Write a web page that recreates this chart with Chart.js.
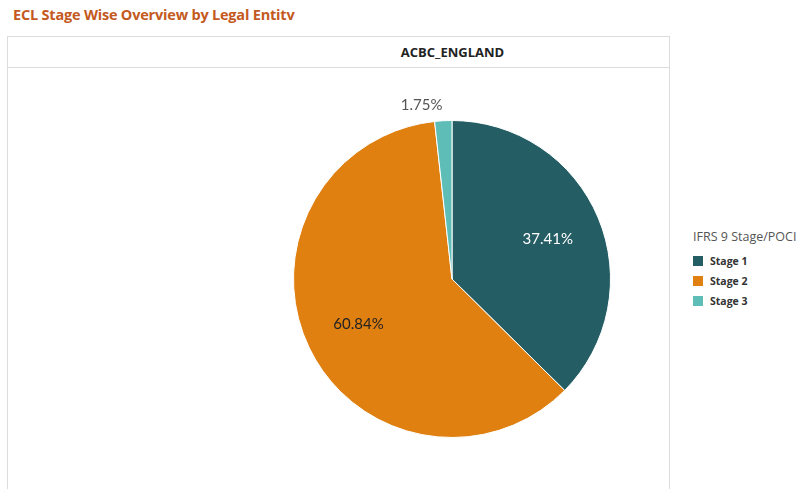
<!DOCTYPE html>
<html>
<head>
<meta charset="utf-8">
<script src="https://cdn.jsdelivr.net/npm/chart.js@4/dist/chart.umd.min.js"></script>
<style>
  body { margin: 0; width: 801px; height: 489px; background: #fff; position: relative; overflow: hidden; font-family: "Open Sans", sans-serif; }
  #title { position: absolute; left: 13px; top: 5px; font-size: 14.5px; font-weight: bold; color: #c4591e; letter-spacing: -0.2px; }
  #panel { position: absolute; left: 7px; top: 36px; width: 661px; height: 470px; border: 1px solid #dcdcdc; }
  #header { height: 31px; border-bottom: 1px solid #dcdcdc; text-align: center; line-height: 31px; font-size: 13px; font-weight: bold; color: #222; padding-left: 228px; box-sizing: border-box; }
  #chartBox { position: absolute; left: 232px; top: 69px; width: 440px; height: 420px; }
  #legend { position: absolute; left: 693px; top: 228px; font-size: 11px; color: #444; white-space: nowrap; }
  #legend .ttl { color: #555; margin-bottom: 6px; font-size: 12.5px; }
  #legend .item { height: 20px; line-height: 20px; font-weight: bold; font-size: 10.5px; color: #333; }
  #legend .sw { display: inline-block; width: 10px; height: 10px; margin-right: 7px; vertical-align: -1px; }
</style>
</head>
<body>
<div id="title">ECL Stage Wise Overview by Legal Entitv</div>
<div id="panel"><div id="header">ACBC_ENGLAND</div></div>
<div id="chartBox"><canvas id="pieChart"></canvas></div>
<div id="legend"></div>
<script>
const stages = ['Stage 1', 'Stage 2', 'Stage 3'];
const shares = [37.41, 60.84, 1.75];
const colors = ['#245e64', '#df8011', '#5fbdb8'];
const labelColors = ['#ffffff', '#222222', '#555555'];

// legend in html
const legend = document.getElementById('legend');
legend.innerHTML = '<div class="ttl">IFRS 9 Stage/POCI</div>' +
    stages.map((s, i) => '<div class="item"><span class="sw" style="background:' + colors[i] + '"></span>' + s + '</div>').join('');

const pctLabels = {
    id: 'pctLabels',
    afterDatasetsDraw(chart) {
        const ctx = chart.ctx;
        const meta = chart.getDatasetMeta(0);
        ctx.save();
        ctx.font = '15px Lato, sans-serif';
        ctx.textBaseline = 'middle';
        meta.data.forEach((arc, i) => {
            const mid = (arc.startAngle + arc.endAngle) / 2;
            const text = shares[i].toFixed(2) + '%';
            ctx.fillStyle = labelColors[i];
            if (shares[i] < 5) {
                const r = arc.outerRadius + 16;
                ctx.textAlign = 'right';
                ctx.fillText(text, arc.x + Math.cos(mid) * r, arc.y + Math.sin(mid) * r);
            } else {
                const r = arc.outerRadius * 0.655;
                ctx.textAlign = 'center';
                ctx.fillText(text, arc.x + Math.cos(mid) * r, arc.y + Math.sin(mid) * r);
            }
        });
        ctx.restore();
    }
};

const ctx = document.getElementById('pieChart').getContext('2d');
const pieChart = new Chart(ctx, {
    type: 'pie',
    data: {
        labels: stages,
        datasets: [{
            data: shares,
            backgroundColor: colors,
            borderColor: '#ffffff',
            borderWidth: 1
        }]
    },
    options: {
        responsive: true,
        maintainAspectRatio: false,
        animation: false,
        layout: {
            padding: { left: 61, right: 61, top: 51, bottom: 51 }
        },
        plugins: {
            legend: { display: false },
            tooltip: { enabled: false }
        }
    },
    plugins: [pctLabels]
});
</script>
</body>
</html>
